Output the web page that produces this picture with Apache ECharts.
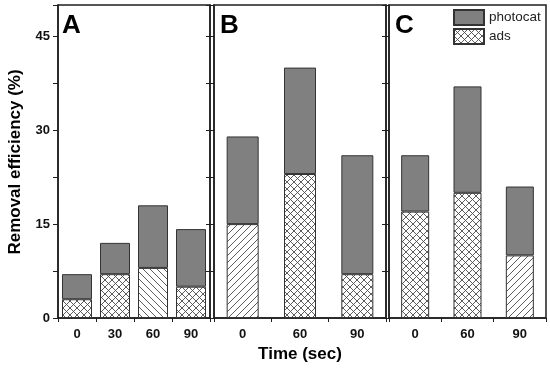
<!DOCTYPE html>
<html><head><meta charset="utf-8">
<script src="https://cdn.jsdelivr.net/npm/echarts@6/dist/echarts.min.js"></script>
<style>html,body{margin:0;padding:0;background:#fff}#c{width:550px;height:373px}</style>
</head><body><div id="c"></div>
<script>
// ---- data ----
const panelLabels = ['A', 'B', 'C'];
const catsA = ['0', '30', '60', '90'];
const catsB = ['0', '60', '90'];
const catsC = ['0', '60', '90'];
const adsA = [3, 7, 8, 5];
const photoA = [4, 5, 10, 9.2];
const adsB = [15, 23, 7];
const photoB = [14, 17, 19];
const adsC = [17, 20, 10];
const photoC = [9, 17, 11];
const hatchA = ['x', 'x', '\\', 'x'];
const hatchB = ['/', 'x', 'x'];
const hatchC = ['x', 'x', '/'];
const yLabelValues = [0, 15, 30, 45];
const yMax = 50;
const yTitle = 'Removal efficiency (%)';
const xTitle = 'Time (sec)';

// ---- styles ----
const FONT = 'Arial, "Liberation Sans", sans-serif';
const LINE = '#1e1e1e';
function makePattern(kind) {
  const s = 7, c = document.createElement('canvas');
  c.width = s; c.height = s;
  const g = c.getContext('2d');
  g.fillStyle = '#fff'; g.fillRect(0, 0, s, s);
  g.strokeStyle = '#4a4a4a'; g.lineWidth = 0.9;
  const line = (a, b, x, y) => { g.beginPath(); g.moveTo(a, b); g.lineTo(x, y); g.stroke(); };
  if (kind === 'x' || kind === '\\') { line(-1, -1, s + 1, s + 1); line(-1, s - 1, 1, s + 1); line(s - 1, -1, s + 1, 1); }
  if (kind === 'x' || kind === '/') { line(-1, s + 1, s + 1, -1); line(-1, 1, 1, -1); line(s - 1, s + 1, s + 1, s - 1); }
  return { image: c, repeat: 'repeat' };
}

const grids = [
  { left: 58, width: 152, top: 5, bottom: 55 },
  { left: 214, width: 172, top: 5, bottom: 55 },
  { left: 389, width: 157, top: 5, bottom: 55 }
].map(g => Object.assign(g, { show: true, borderColor: LINE, borderWidth: 1.5, backgroundColor: 'transparent' }));

const catsAll = [catsA, catsB, catsC];
const xAxes = catsAll.map((cats, i) => ({
  type: 'category', gridIndex: i, data: cats,
  axisLine: { lineStyle: { color: LINE, width: 1.5 } },
  axisTick: { show: true, length: 4, lineStyle: { color: LINE, width: 1 } },
  axisLabel: { fontFamily: FONT, fontWeight: 'bold', fontSize: 13, color: '#111', margin: 10 }
}));

function yAx(grid, pos, opts) {
  return Object.assign({
    type: 'value', gridIndex: grid, position: pos, min: 0, max: yMax, interval: 7.5,
    splitLine: { show: false },
    axisLine: { show: true, lineStyle: { color: LINE, width: 1.5 } },
    axisTick: { show: true, length: 4, inside: false, lineStyle: { color: LINE, width: 1 } },
    axisLabel: { show: false }
  }, opts);
}
const yAxes = [
  yAx(0, 'left', {
    axisTick: { show: true, length: 5, lineStyle: { color: LINE, width: 1 } },
    axisLabel: {
      show: true, fontFamily: FONT, fontWeight: 'bold', fontSize: 13, color: '#111', margin: 8,
      formatter: v => (yLabelValues.indexOf(v) >= 0 ? String(v) : '')
    }
  }),
  yAx(0, 'right', { axisTick: { show: true, length: 4, inside: true, lineStyle: { color: LINE, width: 1 } } }),
  yAx(1, 'left', {}),
  yAx(1, 'right', { axisTick: { show: true, length: 4, inside: true, lineStyle: { color: LINE, width: 1 } } }),
  yAx(2, 'left', {})
];

function panelSeries(i, yIdx, ads, photo, hatch, bw) {
  return [
    {
      name: 'ads', type: 'bar', xAxisIndex: i, yAxisIndex: yIdx, stack: 's' + i, barWidth: bw,
      itemStyle: { color: makePattern('x'), borderColor: '#333', borderWidth: 1 },
      data: ads.map((v, j) => ({ value: v, itemStyle: { color: makePattern(hatch[j]) } }))
    },
    {
      name: 'photocat', type: 'bar', xAxisIndex: i, yAxisIndex: yIdx, stack: 's' + i, barWidth: bw,
      itemStyle: { color: '#808080', borderColor: '#333', borderWidth: 1 },
      data: photo
    }
  ];
}
const series = [].concat(
  panelSeries(0, 0, adsA, photoA, hatchA, 30),
  panelSeries(1, 2, adsB, photoB, hatchB, 32),
  panelSeries(2, 4, adsC, photoC, hatchC, 28)
);

const letterX = [62, 220, 395];
const graphic = panelLabels.map((t, i) => ({
  type: 'text', left: letterX[i], top: 13,
  style: { text: t, fontFamily: FONT, fontWeight: 'bold', fontSize: 26, fill: '#000' }
})).concat([
  {
    type: 'text', x: 15, y: 162, rotation: Math.PI / 2,
    style: { text: yTitle, fontFamily: FONT, fontWeight: 'bold', fontSize: 17, fill: '#000', align: 'center', verticalAlign: 'middle' }
  },
  {
    type: 'text', x: 300, y: 354,
    style: { text: xTitle, fontFamily: FONT, fontWeight: 'bold', fontSize: 17, fill: '#000', align: 'center', verticalAlign: 'middle' }
  }
]);

const chart = echarts.init(document.getElementById('c'), null, { renderer: 'canvas' });
chart.setOption({
  animation: false,
  backgroundColor: '#fff',
  grid: grids,
  xAxis: xAxes,
  yAxis: yAxes,
  legend: {
    data: ['photocat', 'ads'], orient: 'vertical', left: 453, top: 9, padding: 0,
    itemWidth: 30, itemHeight: 15, itemGap: 2, icon: 'rect',
    textStyle: { fontFamily: FONT, fontSize: 13.5, color: '#222', padding: [0, 0, 0, 0] },
    selectedMode: false
  },
  graphic: graphic,
  series: series
});
</script>
</body></html>
